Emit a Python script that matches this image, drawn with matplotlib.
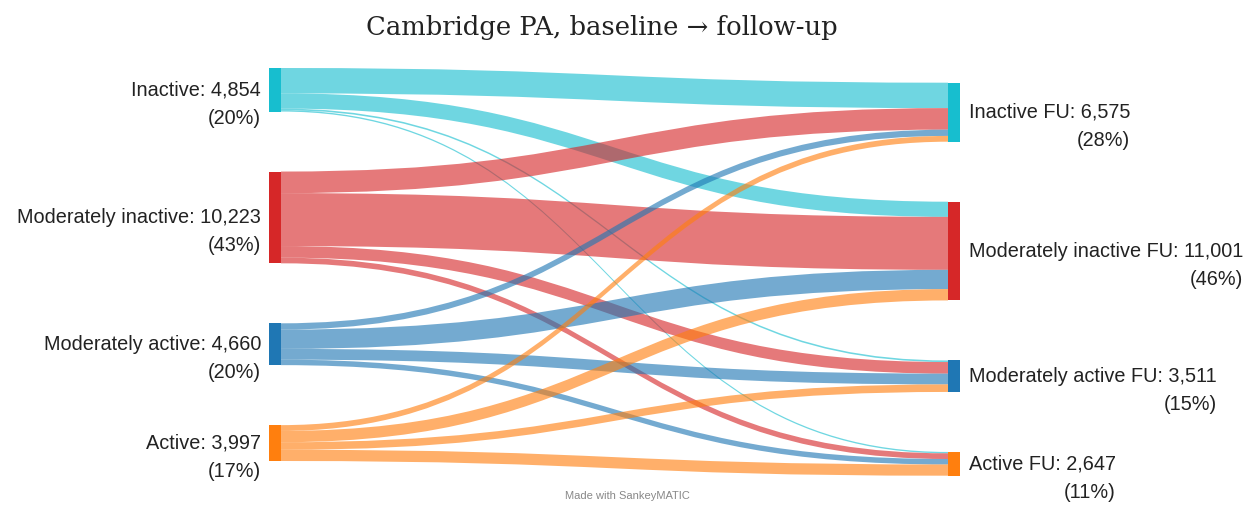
import matplotlib
matplotlib.use("Agg")
import matplotlib.pyplot as plt
from matplotlib.path import Path
from matplotlib.patches import PathPatch, Rectangle

# baseline / follow-up categories
src_names = ["Inactive", "Moderately inactive", "Moderately active", "Active"]
dst_names = ["Inactive FU", "Moderately inactive FU", "Moderately active FU", "Active FU"]
colors = ["#17becf", "#d62728", "#1f77b4", "#ff7f0e"]

# flows[i][j]: from baseline group i to follow-up group j
flows = [
    [2830, 1690, 180, 154],
    [2400, 5900, 1290, 633],
    [700, 2150, 1200, 610],
    [645, 1261, 841, 1250],
]

src_tot = [sum(r) for r in flows]
dst_tot = [sum(flows[i][j] for i in range(4)) for j in range(4)]
total = sum(src_tot)

# layout in pixels
W, H = 1250, 505
gap = 60
span = 393
scale = (span - 3 * gap) / total
left_top, right_top = 68, 82.7
xl0, xl1 = 269, 281
xr0, xr1 = 948, 960
line_gap = 27

fig = plt.figure(figsize=(W / 100, H / 100), dpi=100)
ax = fig.add_axes([0, 0, 1, 1])
ax.set_xlim(0, W)
ax.set_ylim(H, 0)
ax.axis("off")


def node_tops(totals, top):
    ys = []
    y = top
    for t in totals:
        ys.append(y)
        y += t * scale + gap
    return ys


src_y = node_tops(src_tot, left_top)
dst_y = node_tops(dst_tot, right_top)

# running offsets inside each node
src_off = list(src_y)
dst_off = list(dst_y)
xm = (xr0 + xl1) / 2
for i in range(4):
    for j in range(4):
        h = flows[i][j] * scale
        a0, a1 = src_off[i], src_off[i] + h
        b0, b1 = dst_off[j], dst_off[j] + h
        src_off[i] += h
        dst_off[j] += h
        verts = [(xl1, a0), (xm, a0), (xm, b0), (xr0, b0),
                 (xr0, b1), (xm, b1), (xm, a1), (xl1, a1), (xl1, a0)]
        codes = [Path.MOVETO, Path.CURVE4, Path.CURVE4, Path.CURVE4,
                 Path.LINETO, Path.CURVE4, Path.CURVE4, Path.CURVE4, Path.CLOSEPOLY]
        ax.add_patch(PathPatch(Path(verts, codes), facecolor=colors[i],
                               edgecolor="none", alpha=0.62))

lab_font = dict(family=["Liberation Sans", "DejaVu Sans"], fontsize=14.3,
                color="#222222", linespacing=1.62, va="baseline")

for i in range(4):
    h = src_tot[i] * scale
    ax.add_patch(Rectangle((xl0, src_y[i]), xl1 - xl0, h, facecolor=colors[i], edgecolor="none"))
    pct = round(src_tot[i] / total * 100)
    ax.text(261, src_y[i] + h / 2 + 7 + line_gap, f"{src_names[i]}: {src_tot[i]:,}\n({pct}%)",
            ha="right", multialignment="right", **lab_font)

for j in range(4):
    h = dst_tot[j] * scale
    ax.add_patch(Rectangle((xr0, dst_y[j]), xr1 - xr0, h, facecolor=colors[j], edgecolor="none"))
    pct = round(dst_tot[j] / total * 100)
    ax.text(969, dst_y[j] + h / 2 + 7 + line_gap, f"{dst_names[j]}: {dst_tot[j]:,}\n({pct}%)",
            ha="left", multialignment="right", **lab_font)

ax.text(602, 28, "Cambridge PA, baseline \u2192 follow-up", ha="center", va="center",
        fontsize=18.6, color="#222222", family=["DejaVu Serif", "Liberation Serif"])
ax.text(627, 496, "Made with SankeyMATIC", ha="center", va="center",
        fontsize=8, color="#888888", family=["Liberation Sans", "DejaVu Sans"])

fig.savefig("out.png", dpi=100, facecolor="white")
